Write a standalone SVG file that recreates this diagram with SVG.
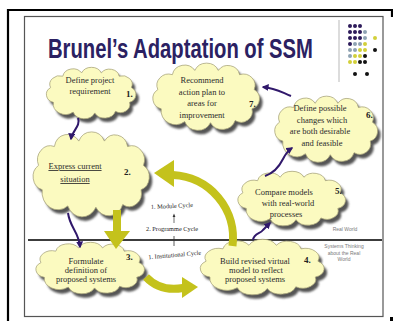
<svg xmlns="http://www.w3.org/2000/svg" width="393" height="321" viewBox="0 0 393 321">
<defs>
<style>
.cloud{fill:#fbfac0;stroke:#a9a67c;stroke-width:0.8}
.shadow{fill:#555;stroke:none}
.t{font-family:"Liberation Serif","Times New Roman",serif;font-size:8.5px;fill:#2b2b2b;text-anchor:middle}
.num{font-family:"Liberation Serif","Times New Roman",serif;font-size:9px;font-weight:bold;fill:#222}
.cyc{font-family:"Liberation Serif","Times New Roman",serif;font-size:6.3px;fill:#222;text-anchor:middle}
.rw{font-family:"Liberation Sans",Arial,sans-serif;font-size:5px;fill:#7a7a7a;text-anchor:middle}
.purple{fill:none;stroke:#30186b;stroke-width:2;marker-end:url(#ph)}
.yel{fill:none;stroke:#c4c21c;stroke-width:8}
.yh{fill:#c4c21c}
.p{fill:#2d1b5a}.g{fill:#8fa3b3}.y{fill:#d2d03a}.k{fill:#111}
</style>
<path id="cp" vector-effect="non-scaling-stroke" d="M10,42 A10,10 0 0 1 7,24 A10.5,10.5 0 0 1 20,10 A11,11 0 0 1 40,6 A11.5,11.5 0 0 1 61,6 A10.5,10.5 0 0 1 80,10 A10.5,10.5 0 0 1 93,24 A10,10 0 0 1 91,42 A10,10 0 0 1 76,53 A12,12 0 0 1 54,55 A12.5,12.5 0 0 1 31,54 A13,13 0 0 1 10,42 Z"/>
<filter id="blur" x="-10%" y="-10%" width="120%" height="120%"><feGaussianBlur stdDeviation="1"/></filter>
<marker id="ph" viewBox="0 0 10 10" refX="8" refY="5" markerWidth="3.5" markerHeight="3.5" orient="auto" markerUnits="strokeWidth"><path d="M0,0 L10,5 L0,10 Z" fill="#30186b"/></marker>
</defs>

<rect x="0" y="0" width="393" height="321" fill="#fff"/>
<g id="frame">
<line x1="7" y1="10" x2="393" y2="10" stroke="#000" stroke-width="2.2"/>
<line x1="8" y1="9" x2="8" y2="321" stroke="#000" stroke-width="2.2"/>
<line x1="392" y1="9" x2="392" y2="17" stroke="#000" stroke-width="2.2"/>
<rect x="390" y="317" width="3" height="4" fill="#000"/>
<rect x="24.5" y="16.5" width="358.5" height="300" fill="#fff" stroke="#555" stroke-width="1.2"/>
</g>

<text transform="translate(48,58) scale(0.723,1)" x="0" y="0" font-family="'Liberation Sans',Arial,sans-serif" font-weight="bold" font-size="28" fill="#2b2162">Brunel’s Adaptation of SSM</text>
<line x1="339" y1="20" x2="339" y2="82" stroke="#d0d0d0" stroke-width="1.5"/>
<g id="dots">
<circle class="p" cx="350" cy="26" r="2"/><circle class="p" cx="355" cy="26" r="2"/><circle class="p" cx="360" cy="26" r="2"/>
<circle class="p" cx="350" cy="32" r="2"/><circle class="p" cx="355" cy="32" r="2"/><circle class="p" cx="360" cy="32" r="2"/><circle class="g" cx="365" cy="32" r="2"/>
<circle class="p" cx="350" cy="38" r="2"/><circle class="p" cx="355" cy="38" r="2"/><circle class="p" cx="360" cy="38" r="2"/><circle class="g" cx="365" cy="38" r="2"/><circle class="y" cx="375" cy="38" r="2"/>
<circle class="p" cx="350" cy="44" r="2"/><circle class="g" cx="355" cy="44" r="2"/><circle class="g" cx="360" cy="44" r="2"/><circle class="y" cx="365" cy="44" r="2"/>
<circle class="g" cx="350" cy="50" r="2"/><circle class="g" cx="355" cy="50" r="2"/><circle class="y" cx="360" cy="50" r="2"/><circle class="y" cx="365" cy="50" r="2"/><circle class="k" cx="375" cy="50" r="2"/>
<circle class="g" cx="350" cy="56" r="2"/><circle class="y" cx="355" cy="56" r="2"/><circle class="y" cx="360" cy="56" r="2"/><circle class="k" cx="365" cy="56" r="2"/>
<circle class="y" cx="350" cy="62" r="2"/><circle class="y" cx="355" cy="62" r="2"/><circle class="k" cx="360" cy="62" r="2"/><circle class="k" cx="365" cy="62" r="2"/>
<circle class="k" cx="355" cy="74" r="2"/><circle class="k" cx="367" cy="74" r="2"/>
</g>

<line x1="28" y1="240" x2="382" y2="240" stroke="#3c3c3c" stroke-width="2"/>

<g id="cycle-labels">
<text class="cyc" x="172" y="208" transform="rotate(-3 172 208)">1. Module Cycle</text>
<line x1="174" y1="223" x2="174" y2="216" stroke="#333" stroke-width="0.7"/>
<polygon points="172.6,217 174,213.5 175.4,217" fill="#333"/>
<text class="cyc" x="172" y="231">2. Programme Cycle</text>
<line x1="174" y1="236" x2="174" y2="246" stroke="#333" stroke-width="0.8"/>
<text class="cyc" x="175" y="257" transform="rotate(-5 175 257)">1. Institutional Cycle</text>
</g>

<g id="world-labels">
<text class="rw" x="345" y="231">Real World</text>
<text class="rw" x="344" y="248">Systems Thinking</text>
<text class="rw" x="344" y="254.5">about the Real</text>
<text class="rw" x="344" y="261">World</text>
</g>

<g id="n1">
<g filter="url(#blur)"><use href="#cp" class="shadow" transform="translate(47,72) scale(0.94,0.817)"/></g>
<use href="#cp" class="cloud" transform="translate(44,68) scale(0.94,0.817)"/>
<text class="t" x="90" y="83">Define project</text>
<text class="t" x="90" y="94">requirement</text>
<text class="num" x="126" y="97">1.</text>
</g>

<g id="n7">
<g filter="url(#blur)"><use href="#cp" class="shadow" transform="translate(153,68) scale(1.12,1.067)"/></g>
<use href="#cp" class="cloud" transform="translate(150,64) scale(1.12,1.067)"/>
<text class="t" x="202" y="83">Recommend</text>
<text class="t" x="202" y="95">action plan to</text>
<text class="t" x="202" y="106">areas for</text>
<text class="t" x="202" y="118">improvement</text>
<text class="num" x="249" y="107">7.</text>
</g>

<g id="n6">
<g filter="url(#blur)"><use href="#cp" class="shadow" transform="translate(275,101) scale(1.08,1.05)"/></g>
<use href="#cp" class="cloud" transform="translate(272,97) scale(1.08,1.05)"/>
<text class="t" x="320" y="111">Define possible</text>
<text class="t" x="322" y="123">changes which</text>
<text class="t" x="320" y="134">are both desirable</text>
<text class="t" x="322" y="146">and feasible</text>
<text class="num" x="366" y="118">6.</text>
</g>

<g id="n2">
<g filter="url(#blur)"><use href="#cp" class="shadow" transform="translate(33,137) scale(1.22,1.35)"/></g>
<use href="#cp" class="cloud" transform="translate(30,133) scale(1.22,1.35)"/>
<text class="t" x="75" y="169" text-decoration="underline">Express current</text>
<text class="t" x="75" y="182" text-decoration="underline">situation</text>
<text class="num" x="124" y="175">2.</text>
</g>

<g id="n5">
<g filter="url(#blur)"><use href="#cp" class="shadow" transform="translate(238,176) scale(1.13,0.867)"/></g>
<use href="#cp" class="cloud" transform="translate(235,172) scale(1.13,0.867)"/>
<text class="t" x="284" y="195">Compare models</text>
<text class="t" x="288" y="206">with real-world</text>
<text class="t" x="286" y="217">processes</text>
<text class="num" x="335" y="194">5.</text>
</g>

<g id="n3">
<g filter="url(#blur)"><use href="#cp" class="shadow" transform="translate(36,247) scale(1.14,0.817)"/></g>
<use href="#cp" class="cloud" transform="translate(33,243) scale(1.14,0.817)"/>
<text class="t" x="86" y="264">Formulate</text>
<text class="t" x="86" y="273">definition of</text>
<text class="t" x="86" y="282">proposed systems</text>
<text class="num" x="126" y="260">3.</text>
</g>

<g id="n4">
<g filter="url(#blur)"><use href="#cp" class="shadow" transform="translate(200,244) scale(1.30,0.883)"/></g>
<use href="#cp" class="cloud" transform="translate(197,240) scale(1.30,0.883)"/>
<text class="t" x="255" y="264">Build revised virtual</text>
<text class="t" x="256" y="273">model to reflect</text>
<text class="t" x="255" y="282">proposed systems</text>
<text class="num" x="304" y="263">4.</text>
</g>

<g id="connectors">
<path class="purple" d="M78,118 C81,126 72,131 71,139"/>
<path class="purple" d="M68,213 C70,228 79,232 80,247"/>
<path class="purple" d="M253,240 C254,233 260,234 263,230 C266,227 267,226 270,223"/>
<path class="purple" d="M265,176 C274,173 279,167 283,159 C286,153 289,150 292,148"/>
<path class="purple" d="M291,96 C281,92 275,88 263,87"/>
<path class="yel" d="M117,210 L117,233"/>
<polygon class="yh" points="104,231 130,231 116,249"/>
<path class="yel" d="M146,277 Q160,292 183,288"/>
<polygon class="yh" points="182,277 198,287 182,298"/>
<path class="yel" d="M232.5,246 A63,63 0 0 0 173,175"/>
<polygon class="yh" points="174,160 154,173 174,187"/>
</g>
</svg>
